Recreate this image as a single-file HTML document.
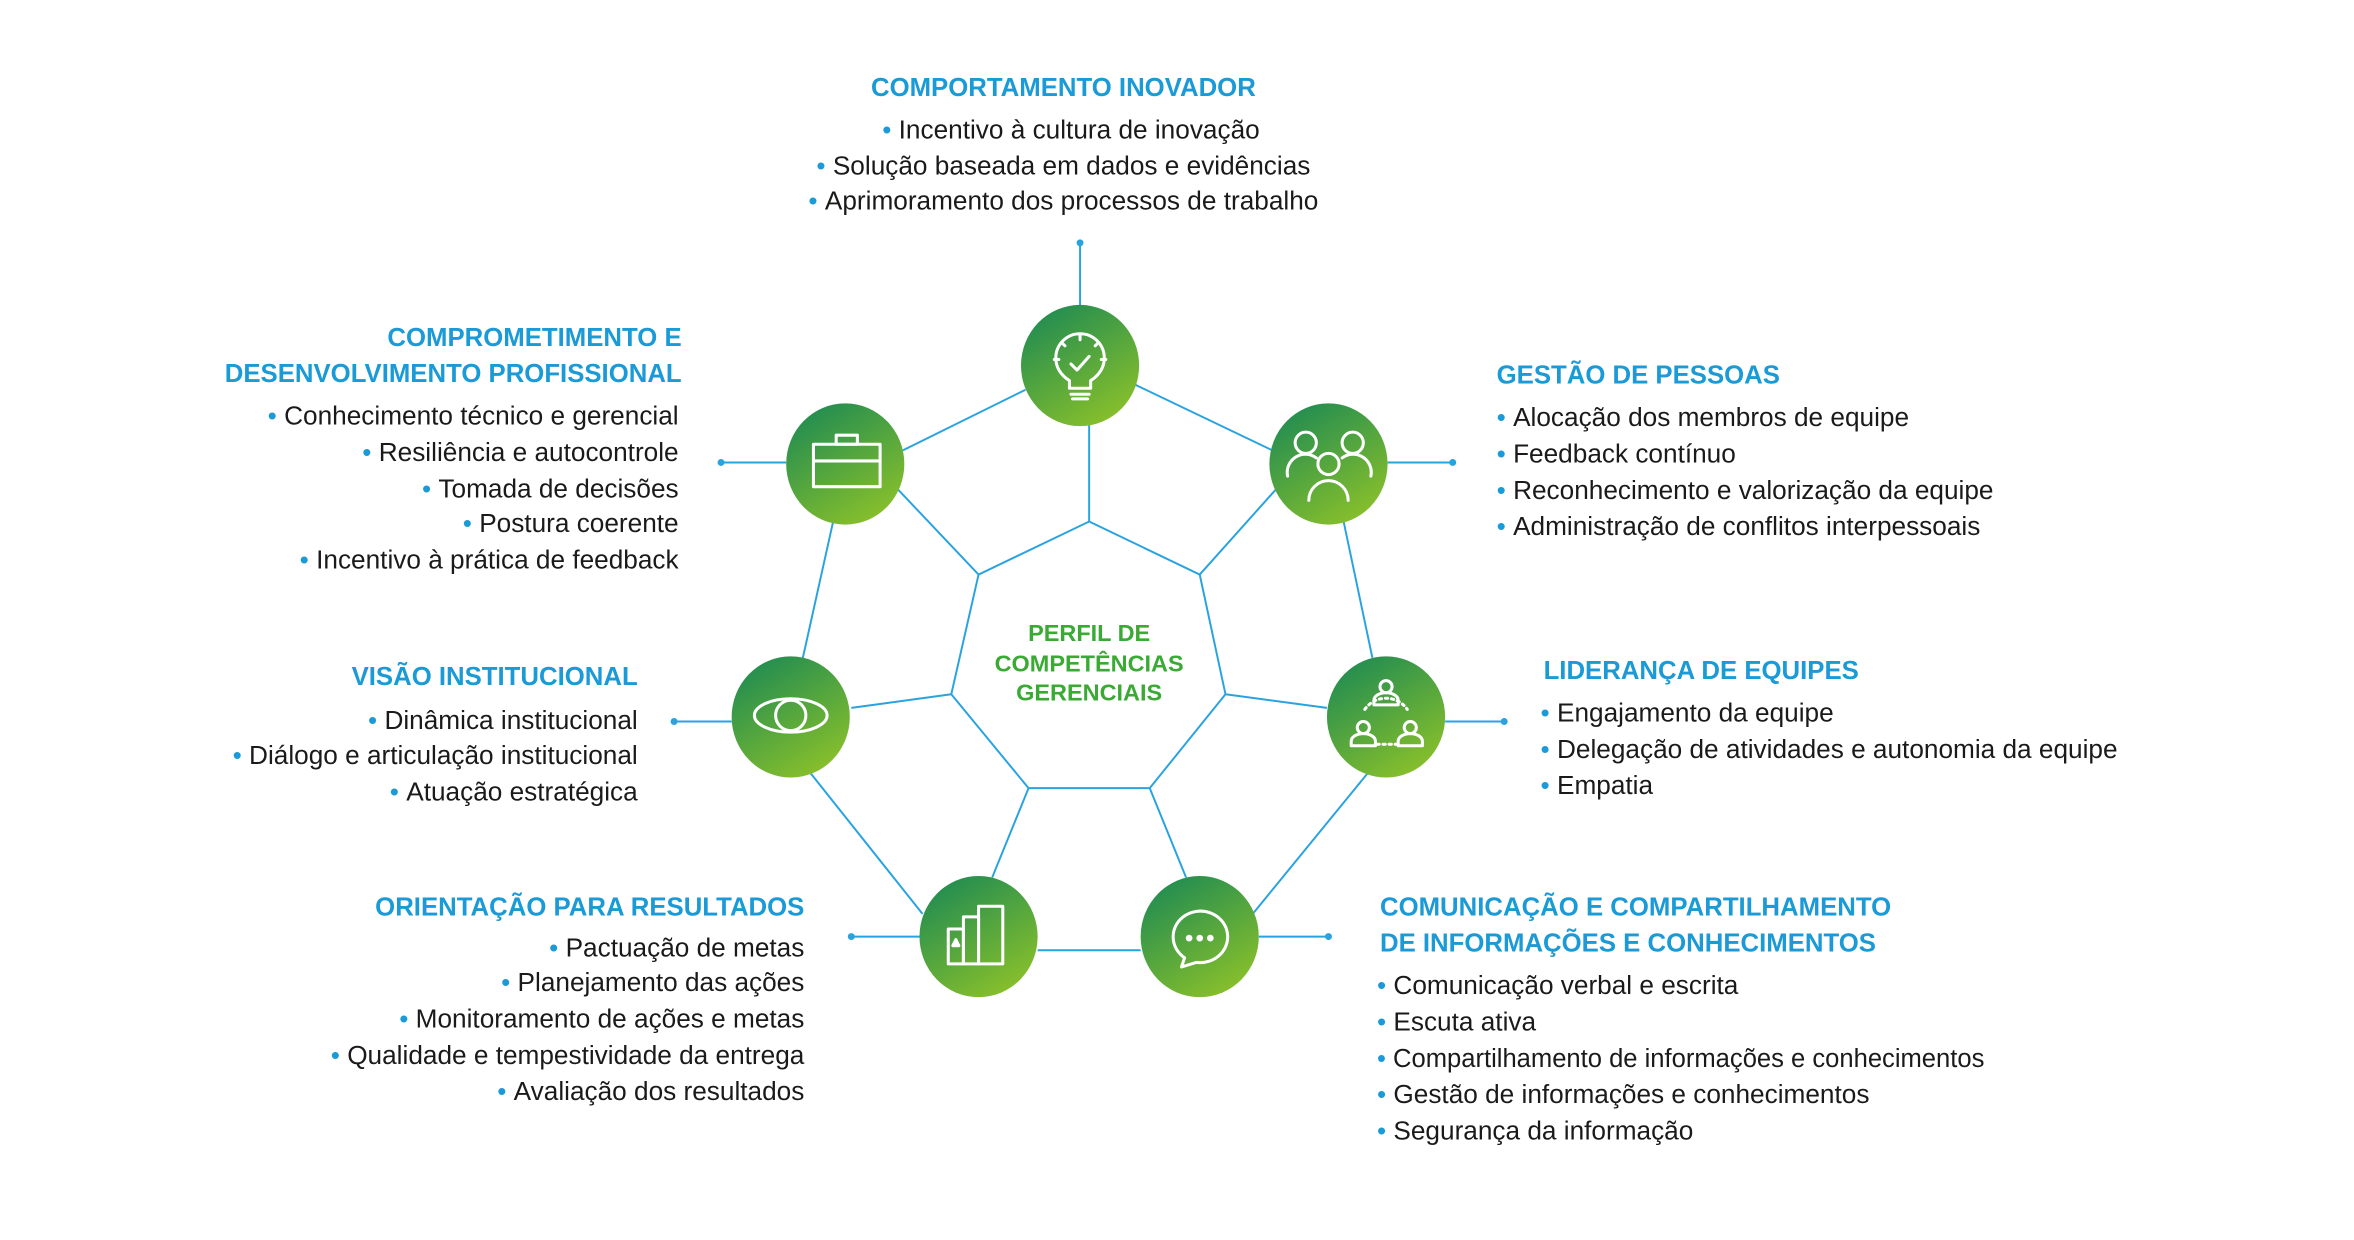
<!DOCTYPE html>
<html><head><meta charset="utf-8"><style>
html,body{margin:0;padding:0;background:#fff;}
svg{display:block;}
text{font-family:"Liberation Sans",sans-serif;}
.h{fill:#1a9ad6;font-weight:bold;font-size:17px;}
.t{fill:#1a1a1a;font-size:17.3px;}
.b{fill:#1a9ad6;}
.c{fill:#3aaa35;font-weight:bold;font-size:15.5px;}
.ic{fill:none;stroke:#fff;stroke-width:2;stroke-linecap:round;stroke-linejoin:round;}
</style></head><body>
<svg width="2354" height="1240" viewBox="0 0 1554 818" xmlns="http://www.w3.org/2000/svg">
<defs>
<linearGradient id="g" x1="0.2" y1="0" x2="0.8" y2="1">
<stop offset="0" stop-color="#1f8b52"/><stop offset="1" stop-color="#8dc229"/></linearGradient>
</defs>
<g stroke="#29a3e0" stroke-width="1.3" fill="none">
<!-- inner heptagon -->
<polygon points="719,344 792,379 809,458 759,520 679,520 628,458 646,379"/>
<!-- spokes -->
<line x1="719" y1="280" x2="719" y2="344"/>
<line x1="592" y1="322" x2="646" y2="379"/>
<line x1="843" y1="322" x2="792" y2="379"/>
<line x1="876" y1="467" x2="809" y2="458"/>
<line x1="562" y1="467" x2="628" y2="458"/>
<line x1="655" y1="579" x2="679" y2="520"/>
<line x1="783" y1="579" x2="759" y2="520"/>
<!-- outer ring -->
<line x1="748" y1="253" x2="840" y2="297"/>
<line x1="887" y1="344" x2="906" y2="434"/>
<line x1="903" y1="510" x2="827" y2="603"/>
<line x1="685" y1="627" x2="753" y2="627"/>
<line x1="609" y1="603" x2="535" y2="510"/>
<line x1="530" y1="434" x2="550" y2="344"/>
<line x1="596" y1="297" x2="677" y2="257"/>
<!-- leaders -->
<line x1="713" y1="160" x2="713" y2="202"/>
<line x1="476" y1="305" x2="519" y2="305"/>
<line x1="916" y1="305" x2="959" y2="305"/>
<line x1="954" y1="476" x2="993" y2="476"/>
<line x1="445" y1="476" x2="483" y2="476"/>
<line x1="562" y1="618" x2="607" y2="618"/>
<line x1="831" y1="618" x2="877" y2="618"/>
</g>
<g fill="#29a3e0">
<circle cx="713" cy="160" r="2.3"/><circle cx="476" cy="305" r="2.3"/><circle cx="959" cy="305" r="2.3"/>
<circle cx="993" cy="476" r="2.3"/><circle cx="445" cy="476" r="2.3"/><circle cx="562" cy="618" r="2.3"/><circle cx="877" cy="618" r="2.3"/>
</g>
<g fill="url(#g)">
<ellipse cx="713" cy="241" rx="39" ry="40"/>
<ellipse cx="877" cy="306" rx="39" ry="40"/>
<ellipse cx="915" cy="473" rx="39" ry="40"/>
<ellipse cx="792" cy="618" rx="39" ry="40"/>
<ellipse cx="646" cy="618" rx="39" ry="40"/>
<ellipse cx="522" cy="473" rx="39" ry="40"/>
<ellipse cx="558" cy="306" rx="39" ry="40"/>
</g>
<!-- icons -->
<g class="ic">
<!-- bulb -->
<path d="M706,256 v-5 q-9,-6 -9,-15 a16,16 0 0 1 32,0 q0,9 -9,15 v5 z"/>
<line x1="707" y1="260" x2="719" y2="260"/><line x1="708" y1="263" x2="718" y2="263"/>
<path d="M707,240 l4,4 l8,-9"/>
<line x1="713" y1="221" x2="713" y2="224"/><line x1="696" y1="237" x2="699" y2="237"/><line x1="727" y1="237" x2="730" y2="237"/>
<line x1="701" y1="226" x2="703" y2="228"/><line x1="725" y1="226" x2="723" y2="228"/>
<!-- briefcase -->
<rect x="537" y="293" width="44" height="28"/><rect x="552" y="287" width="14" height="6"/><line x1="537" y1="304" x2="581" y2="304"/>
<!-- people -->
<circle cx="862" cy="292" r="7"/><circle cx="893" cy="292" r="7"/><circle cx="877" cy="306" r="7"/>
<path d="M850,314 a12,12 0 0 1 19,-12"/><path d="M905,314 a12,12 0 0 0 -19,-12"/>
<path d="M864,330 a13,13 0 0 1 26,0"/>
<!-- team leadership -->
<circle cx="915" cy="453" r="4"/><path d="M907,465 v-3 a8,5 0 0 1 16,0 v3 z"/>
<circle cx="900" cy="480" r="4"/><path d="M892,492 v-3 a8,5 0 0 1 16,0 v3 z"/>
<circle cx="931" cy="480" r="4"/><path d="M923,492 v-3 a8,5 0 0 1 16,0 v3 z"/>
<path d="M901,468 a17,17 0 0 1 28,0" stroke-dasharray="1.5 2.5"/>
<line x1="909" y1="491" x2="922" y2="491" stroke-dasharray="1.5 2.5"/>
<!-- eye -->
<ellipse cx="522" cy="472" rx="24" ry="11"/><circle cx="522" cy="472" r="10"/>
<!-- chart -->
<rect x="626" y="613" width="10" height="23"/><rect x="636" y="605" width="10" height="31"/><rect x="646" y="598" width="16" height="38"/>
<path d="M629,624 l2,-4 l2,4 z" fill="#fff"/>
<!-- chat -->
<path d="M780,638 l2,-6 a18,17 0 1 1 8,3 z"/>
</g>
<g fill="#fff"><circle cx="785" cy="619" r="2.2"/><circle cx="792" cy="619" r="2.2"/><circle cx="799" cy="619" r="2.2"/></g>

<!-- center -->
<text class="c" x="719" y="423" text-anchor="middle">PERFIL DE</text>
<text class="c" x="719" y="443" text-anchor="middle">COMPETÊNCIAS</text>
<text class="c" x="719" y="462" text-anchor="middle">GERENCIAIS</text>

<!-- top -->
<text class="h" x="702" y="63" text-anchor="middle">COMPORTAMENTO INOVADOR</text>
<text class="t" x="707" y="91" text-anchor="middle"><tspan class="b">• </tspan>Incentivo à cultura de inovação</text>
<text class="t" x="702" y="115" text-anchor="middle"><tspan class="b">• </tspan>Solução baseada em dados e evidências</text>
<text class="t" x="702" y="138" text-anchor="middle"><tspan class="b">• </tspan>Aprimoramento dos processos de trabalho</text>

<!-- top-left -->
<g text-anchor="end">
<text class="h" x="450" y="228">COMPROMETIMENTO E</text>
<text class="h" x="450" y="252">DESENVOLVIMENTO PROFISSIONAL</text>
<text class="t" x="448" y="280"><tspan class="b">• </tspan>Conhecimento técnico e gerencial</text>
<text class="t" x="448" y="304"><tspan class="b">• </tspan>Resiliência e autocontrole</text>
<text class="t" x="448" y="328"><tspan class="b">• </tspan>Tomada de decisões</text>
<text class="t" x="448" y="351"><tspan class="b">• </tspan>Postura coerente</text>
<text class="t" x="448" y="375"><tspan class="b">• </tspan>Incentivo à prática de feedback</text>

<text class="h" x="421" y="452">VISÃO INSTITUCIONAL</text>
<text class="t" x="421" y="481"><tspan class="b">• </tspan>Dinâmica institucional</text>
<text class="t" x="421" y="504"><tspan class="b">• </tspan>Diálogo e articulação institucional</text>
<text class="t" x="421" y="528"><tspan class="b">• </tspan>Atuação estratégica</text>

<text class="h" x="531" y="604">ORIENTAÇÃO PARA RESULTADOS</text>
<text class="t" x="531" y="631"><tspan class="b">• </tspan>Pactuação de metas</text>
<text class="t" x="531" y="654"><tspan class="b">• </tspan>Planejamento das ações</text>
<text class="t" x="531" y="678"><tspan class="b">• </tspan>Monitoramento de ações e metas</text>
<text class="t" x="531" y="702"><tspan class="b">• </tspan>Qualidade e tempestividade da entrega</text>
<text class="t" x="531" y="726"><tspan class="b">• </tspan>Avaliação dos resultados</text>
</g>

<!-- right side -->
<text class="h" x="988" y="253">GESTÃO DE PESSOAS</text>
<text class="t" x="988" y="281"><tspan class="b">• </tspan>Alocação dos membros de equipe</text>
<text class="t" x="988" y="305"><tspan class="b">• </tspan>Feedback contínuo</text>
<text class="t" x="988" y="329"><tspan class="b">• </tspan>Reconhecimento e valorização da equipe</text>
<text class="t" x="988" y="353"><tspan class="b">• </tspan>Administração de conflitos interpessoais</text>

<text class="h" x="1019" y="448">LIDERANÇA DE EQUIPES</text>
<text class="t" x="1017" y="476"><tspan class="b">• </tspan>Engajamento da equipe</text>
<text class="t" x="1017" y="500"><tspan class="b">• </tspan>Delegação de atividades e autonomia da equipe</text>
<text class="t" x="1017" y="524"><tspan class="b">• </tspan>Empatia</text>

<text class="h" x="911" y="604">COMUNICAÇÃO E COMPARTILHAMENTO</text>
<text class="h" x="911" y="628">DE INFORMAÇÕES E CONHECIMENTOS</text>
<text class="t" x="909" y="656"><tspan class="b">• </tspan>Comunicação verbal e escrita</text>
<text class="t" x="909" y="680"><tspan class="b">• </tspan>Escuta ativa</text>
<text class="t" x="909" y="704" textLength="401" lengthAdjust="spacingAndGlyphs"><tspan class="b">• </tspan>Compartilhamento de informações e conhecimentos</text>
<text class="t" x="909" y="728"><tspan class="b">• </tspan>Gestão de informações e conhecimentos</text>
<text class="t" x="909" y="752"><tspan class="b">• </tspan>Segurança da informação</text>
</svg>
</body></html>
